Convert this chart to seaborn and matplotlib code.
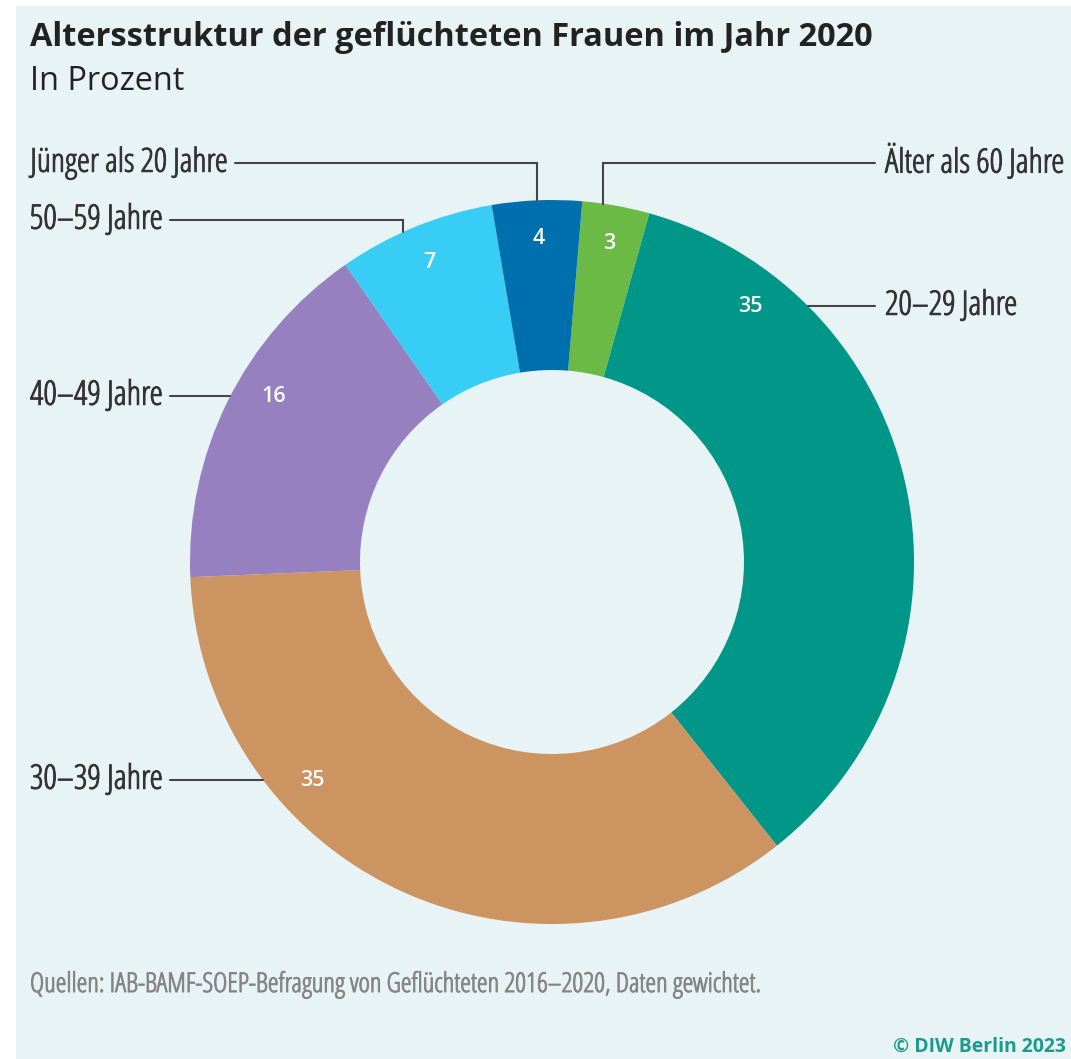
import numpy as np
import matplotlib
matplotlib.use("Agg")
import matplotlib.pyplot as plt
import matplotlib.patheffects as pe
from matplotlib.patches import Rectangle
import seaborn as sns

# Age structure of refugee women, 2020 (percent), clockwise from the top
categories = ["Älter als 60 Jahre", "20–29 Jahre", "30–39 Jahre",
              "40–49 Jahre", "50–59 Jahre", "Jünger als 20 Jahre"]
shares = [3, 35, 35, 16, 7, 4]
hex_colors = ["#6cba46", "#009688", "#cb9461", "#9680c0", "#38cdf5", "#006fae"]

title = "Altersstruktur der geflüchteten Frauen im Jahr 2020"
subtitle = "In Prozent"
source = "Quellen: IAB-BAMF-SOEP-Befragung von Geflüchteten 2016–2020, Daten gewichtet."
credit = "© DIW Berlin 2023"

sns.set_theme(style="white")
palette = sns.color_palette(hex_colors)
plt.rcParams["font.family"] = ["Open Sans", "DejaVu Sans"]

W, H = 1071, 1059
BG = "#e7f3f4"
TEXT_COL = "#333333"
SRC_COL = "#858585"
LINE_COL = "#444444"
LABEL_KW = dict(family=["Open Sans", "DejaVu Sans"], fontstretch="condensed")

fig = plt.figure(figsize=(W / 100, H / 100), dpi=100)
fig.patch.set_facecolor("white")
ax = fig.add_axes([0, 0, 1, 1])
ax.set_facecolor("none")
renderer = fig.canvas.get_renderer()


def fitted_text(x, y, s, width, **kw):
    """Place a text and scale its font so it spans the given pixel width."""
    t = ax.text(x, y, s, **kw)
    w = t.get_window_extent(renderer).width
    t.set_fontsize(t.get_fontsize() * width / w)
    return t


def heavier(color, lw=0.7):
    return [pe.withStroke(linewidth=lw, foreground=color)]


# light panel
ax.add_patch(Rectangle((16, 0), W - 16, H - 6, facecolor=BG, edgecolor="none", zorder=0))

# donut geometry (pixel space, y measured upward)
cx, cy = 552, H - 562
R_OUT, R_IN = 362, 192
START = 85.2

ax.pie(shares, colors=palette, startangle=START, counterclock=False,
       radius=R_OUT, center=(cx, cy),
       wedgeprops=dict(width=R_OUT - R_IN, linewidth=0, edgecolor="none"))
ax.set_xlim(0, W)
ax.set_ylim(0, H)
ax.set_aspect("equal")
ax.axis("off")

# wedge mid-angles (degrees, matplotlib convention) from the data
total = float(sum(shares))
mids = []
acc = 0.0
for s in shares:
    a0 = START - acc / total * 360
    a1 = START - (acc + s) / total * 360
    mids.append((a0 + a1) / 2)
    acc += s

R_LAB = 324

# leader layout per category: side, row (pixel y from top), text anchor x,
# text width, drop x (None = horizontal leader into the ring)
leaders = {
    "Älter als 60 Jahre": ("right", 163, 885, 180, 603),
    "20–29 Jahre": ("right", 306, 885, 132, None),
    "30–39 Jahre": ("left", 780, 163, 133, None),
    "40–49 Jahre": ("left", 396, 163, 133, None),
    "50–59 Jahre": ("left", 220, 163, 133, 403),
    "Jünger als 20 Jahre": ("left", 163, 228, 198, 537),
}

for i, cat in enumerate(categories):
    side, row, tx, tw, drop_x = leaders[cat]
    y = H - row
    ha = "right" if side == "left" else "left"
    fitted_text(tx, y, cat, tw, ha=ha, va="center", fontsize=19,
                color=TEXT_COL, path_effects=heavier(TEXT_COL), **LABEL_KW)
    line_start = tx + 7 if side == "left" else tx - 10

    if drop_x is not None:
        y_end = cy + np.sqrt(R_OUT ** 2 - (drop_x - cx) ** 2)
        ax.plot([line_start, drop_x, drop_x], [y, y, y_end],
                color=LINE_COL, lw=1.5, solid_joinstyle="miter", zorder=1)
        ang = np.deg2rad(mids[i])
        lx, ly = cx + R_LAB * np.cos(ang), cy + R_LAB * np.sin(ang)
    else:
        dx = np.sqrt(R_OUT ** 2 - (y - cy) ** 2)
        x_edge = cx + dx if side == "right" else cx - dx
        ax.plot([line_start, x_edge], [y, y], color=LINE_COL, lw=1.5, zorder=1)
        dl = np.sqrt(R_LAB ** 2 - (y - cy) ** 2)
        lx = cx + dl if side == "right" else cx - dl
        ly = y

    ax.text(lx, ly, f"{shares[i]}", ha="center", va="center", fontsize=15.5,
            fontweight="semibold", color="white", zorder=5)

# titles and footer
fitted_text(30, H - 37, title, 843, ha="left", va="center", fontsize=20,
            fontweight="bold", fontstretch="normal", color="#222222")
fitted_text(30, H - 81, subtitle, 155, ha="left", va="center", fontsize=20,
            fontstretch="normal", color="#222222")
fitted_text(30, H - 985, source, 733, ha="left", va="center", fontsize=16,
            color=SRC_COL, path_effects=heavier(SRC_COL), **LABEL_KW)
fitted_text(1066, H - 1047, credit, 173, ha="right", va="center", fontsize=16,
            fontweight="bold", color="#1b9a8e", **LABEL_KW)

fig.savefig("out.png", dpi=100, facecolor=fig.get_facecolor())
